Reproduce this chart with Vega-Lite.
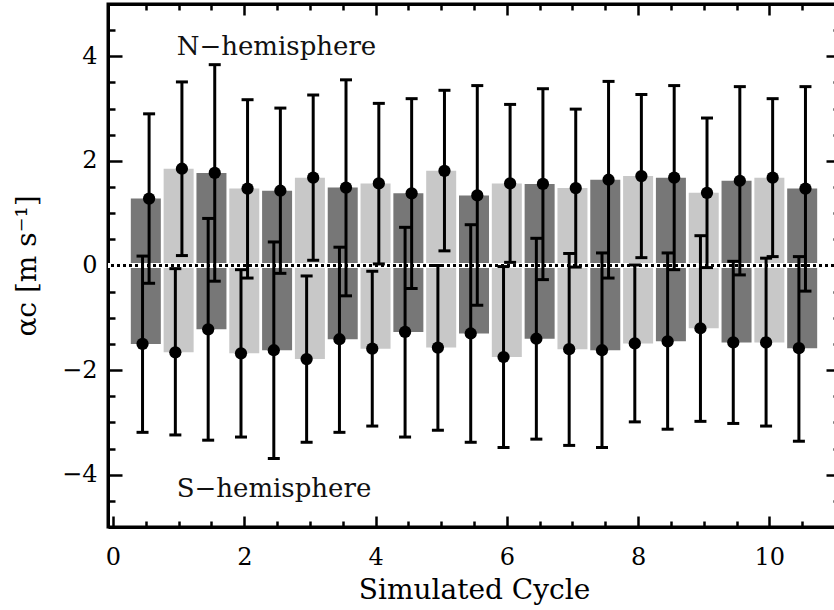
{
  "$schema": "https://vega.github.io/schema/vega-lite/v6.json",
  "autosize": {"type": "none"},
  "width": 732,
  "height": 523,
  "padding": {"left": 108, "top": 4, "right": -6, "bottom": 83},
  "background": "white",
  "config": {
    "view": {"stroke": "black", "strokeWidth": 3},
    "axis": {"domainColor": "black", "domainWidth": 3, "tickColor": "black", "tickWidth": 2.5, "labelColor": "black", "titleColor": "black", "labelFont": "DejaVu Serif", "titleFont": "DejaVu Serif", "labelFontSize": 24, "titleFontSize": 28, "titleFontWeight": "normal", "grid": false, "labelFlush": false, "labelOverlap": false},
    "text": {"font": "DejaVu Serif"}
  },
  "resolve": {"axis": {"x": "independent", "y": "independent"}},
  "data": {"values": [
    {"cycle": 0.5, "hemi": "N", "pos": 0.55, "mean": 1.28, "lo": -0.34, "hi": 2.90, "shade": "dark"},
    {"cycle": 0.5, "hemi": "S", "pos": 0.45, "mean": -1.50, "lo": -3.19, "hi": 0.18, "shade": "dark"},
    {"cycle": 1.0, "hemi": "N", "pos": 1.05, "mean": 1.85, "lo": 0.19, "hi": 3.51, "shade": "light"},
    {"cycle": 1.0, "hemi": "S", "pos": 0.95, "mean": -1.66, "lo": -3.24, "hi": -0.06, "shade": "light"},
    {"cycle": 1.5, "hemi": "N", "pos": 1.55, "mean": 1.77, "lo": -0.30, "hi": 3.84, "shade": "dark"},
    {"cycle": 1.5, "hemi": "S", "pos": 1.45, "mean": -1.22, "lo": -3.34, "hi": 0.90, "shade": "dark"},
    {"cycle": 2.0, "hemi": "N", "pos": 2.05, "mean": 1.47, "lo": -0.24, "hi": 3.17, "shade": "light"},
    {"cycle": 2.0, "hemi": "S", "pos": 1.95, "mean": -1.68, "lo": -3.28, "hi": -0.08, "shade": "light"},
    {"cycle": 2.5, "hemi": "N", "pos": 2.55, "mean": 1.43, "lo": -0.15, "hi": 3.01, "shade": "dark"},
    {"cycle": 2.5, "hemi": "S", "pos": 2.45, "mean": -1.62, "lo": -3.69, "hi": 0.45, "shade": "dark"},
    {"cycle": 3.0, "hemi": "N", "pos": 3.05, "mean": 1.68, "lo": 0.10, "hi": 3.26, "shade": "light"},
    {"cycle": 3.0, "hemi": "S", "pos": 2.95, "mean": -1.79, "lo": -3.38, "hi": -0.20, "shade": "light"},
    {"cycle": 3.5, "hemi": "N", "pos": 3.55, "mean": 1.49, "lo": -0.58, "hi": 3.55, "shade": "dark"},
    {"cycle": 3.5, "hemi": "S", "pos": 3.45, "mean": -1.41, "lo": -3.19, "hi": 0.35, "shade": "dark"},
    {"cycle": 4.0, "hemi": "N", "pos": 4.05, "mean": 1.57, "lo": 0.03, "hi": 3.10, "shade": "light"},
    {"cycle": 4.0, "hemi": "S", "pos": 3.95, "mean": -1.59, "lo": -3.07, "hi": -0.11, "shade": "light"},
    {"cycle": 4.5, "hemi": "N", "pos": 4.55, "mean": 1.38, "lo": -0.44, "hi": 3.19, "shade": "dark"},
    {"cycle": 4.5, "hemi": "S", "pos": 4.45, "mean": -1.27, "lo": -3.28, "hi": 0.73, "shade": "dark"},
    {"cycle": 5.0, "hemi": "N", "pos": 5.05, "mean": 1.81, "lo": 0.28, "hi": 3.35, "shade": "light"},
    {"cycle": 5.0, "hemi": "S", "pos": 4.95, "mean": -1.57, "lo": -3.15, "hi": 0.00, "shade": "light"},
    {"cycle": 5.5, "hemi": "N", "pos": 5.55, "mean": 1.34, "lo": -0.76, "hi": 3.44, "shade": "dark"},
    {"cycle": 5.5, "hemi": "S", "pos": 5.45, "mean": -1.30, "lo": -3.38, "hi": 0.78, "shade": "dark"},
    {"cycle": 6.0, "hemi": "N", "pos": 6.05, "mean": 1.57, "lo": 0.06, "hi": 3.08, "shade": "light"},
    {"cycle": 6.0, "hemi": "S", "pos": 5.95, "mean": -1.75, "lo": -3.48, "hi": -0.02, "shade": "light"},
    {"cycle": 6.5, "hemi": "N", "pos": 6.55, "mean": 1.56, "lo": -0.27, "hi": 3.38, "shade": "dark"},
    {"cycle": 6.5, "hemi": "S", "pos": 6.45, "mean": -1.40, "lo": -3.32, "hi": 0.52, "shade": "dark"},
    {"cycle": 7.0, "hemi": "N", "pos": 7.05, "mean": 1.48, "lo": -0.03, "hi": 2.99, "shade": "light"},
    {"cycle": 7.0, "hemi": "S", "pos": 6.95, "mean": -1.60, "lo": -3.44, "hi": 0.23, "shade": "light"},
    {"cycle": 7.5, "hemi": "N", "pos": 7.55, "mean": 1.64, "lo": -0.24, "hi": 3.52, "shade": "dark"},
    {"cycle": 7.5, "hemi": "S", "pos": 7.45, "mean": -1.62, "lo": -3.48, "hi": 0.24, "shade": "dark"},
    {"cycle": 8.0, "hemi": "N", "pos": 8.05, "mean": 1.71, "lo": 0.15, "hi": 3.27, "shade": "light"},
    {"cycle": 8.0, "hemi": "S", "pos": 7.95, "mean": -1.49, "lo": -2.99, "hi": 0.01, "shade": "light"},
    {"cycle": 8.5, "hemi": "N", "pos": 8.55, "mean": 1.68, "lo": -0.08, "hi": 3.44, "shade": "dark"},
    {"cycle": 8.5, "hemi": "S", "pos": 8.45, "mean": -1.45, "lo": -3.13, "hi": 0.24, "shade": "dark"},
    {"cycle": 9.0, "hemi": "N", "pos": 9.05, "mean": 1.39, "lo": -0.04, "hi": 2.82, "shade": "light"},
    {"cycle": 9.0, "hemi": "S", "pos": 8.95, "mean": -1.20, "lo": -2.98, "hi": 0.57, "shade": "light"},
    {"cycle": 9.5, "hemi": "N", "pos": 9.55, "mean": 1.62, "lo": -0.18, "hi": 3.42, "shade": "dark"},
    {"cycle": 9.5, "hemi": "S", "pos": 9.45, "mean": -1.47, "lo": -3.02, "hi": 0.08, "shade": "dark"},
    {"cycle": 10.0, "hemi": "N", "pos": 10.05, "mean": 1.68, "lo": 0.17, "hi": 3.19, "shade": "light"},
    {"cycle": 10.0, "hemi": "S", "pos": 9.95, "mean": -1.47, "lo": -3.07, "hi": 0.14, "shade": "light"},
    {"cycle": 10.5, "hemi": "N", "pos": 10.55, "mean": 1.47, "lo": -0.49, "hi": 3.42, "shade": "dark"},
    {"cycle": 10.5, "hemi": "S", "pos": 10.45, "mean": -1.58, "lo": -3.36, "hi": 0.17, "shade": "dark"}
  ]},
  "layer": [
    {
      "mark": {"type": "bar", "size": 30},
      "encoding": {
        "x": {"field": "cycle", "type": "quantitative", "scale": {"domain": [0, 11], "nice": false, "zero": false},
          "axis": {"orient": "bottom", "values": [0, 2, 4, 6, 8, 10], "tickSize": -11, "labelPadding": 29,
            "title": "Simulated Cycle", "titlePadding": 7}},
        "y": {"field": "mean", "type": "quantitative", "stack": null, "scale": {"domain": [-5, 5], "nice": false},
          "axis": {"orient": "left", "values": [-4, -2, 0, 2, 4], "tickSize": -14, "labelPadding": 25,
            "title": "αc [m s⁻¹]", "titlePadding": 20}},
        "color": {"field": "shade", "type": "nominal", "scale": {"domain": ["dark", "light"], "range": ["#777777", "#c8c8c8"]}, "legend": null}
      }
    },
    {
      "mark": {"type": "rule", "color": "white", "strokeWidth": 4},
      "encoding": {"y": {"datum": 0, "type": "quantitative", "axis": null}}
    },
    {
      "mark": {"type": "rule", "color": "black", "strokeWidth": 1.3, "strokeDash": [3, 3]},
      "encoding": {"y": {"datum": 0, "type": "quantitative", "axis": null}}
    },
    {
      "mark": {"type": "rule", "color": "black", "strokeWidth": 3},
      "encoding": {
        "x": {"field": "pos", "type": "quantitative", "scale": {"domain": [0, 11], "nice": false, "zero": false},
          "axis": {"orient": "top", "values": [2, 4, 6, 8, 10], "tickSize": -11, "labels": false, "title": null}},
        "y": {"field": "lo", "type": "quantitative", "scale": {"domain": [-5, 5], "nice": false},
          "axis": {"orient": "right", "values": [-4, -2, 0, 2, 4], "tickSize": -14, "labels": false, "title": null}},
        "y2": {"field": "hi"}
      }
    },
    {
      "mark": {"type": "tick", "orient": "horizontal", "size": 12, "thickness": 3, "color": "black", "opacity": 1},
      "encoding": {
        "x": {"field": "pos", "type": "quantitative", "scale": {"domain": [0, 11], "nice": false, "zero": false},
          "axis": {"orient": "bottom", "values": [0.5,1,1.5,2.5,3,3.5,4.5,5,5.5,6.5,7,7.5,8.5,9,9.5,10.5], "tickSize": -6, "labels": false, "title": null, "domain": false}},
        "y": {"field": "lo", "type": "quantitative", "scale": {"domain": [-5, 5], "nice": false},
          "axis": {"orient": "left", "values": [-4.5,-3.5,-3,-2.5,-1.5,-1,-0.5,0.5,1,1.5,2.5,3,3.5,4.5], "tickSize": -7, "labels": false, "title": null, "domain": false}}
      }
    },
    {
      "mark": {"type": "tick", "orient": "horizontal", "size": 12, "thickness": 3, "color": "black", "opacity": 1},
      "encoding": {
        "x": {"field": "pos", "type": "quantitative", "scale": {"domain": [0, 11], "nice": false, "zero": false},
          "axis": {"orient": "top", "values": [0.5,1,1.5,2.5,3,3.5,4.5,5,5.5,6.5,7,7.5,8.5,9,9.5,10.5], "tickSize": -6, "labels": false, "title": null, "domain": false}},
        "y": {"field": "hi", "type": "quantitative", "scale": {"domain": [-5, 5], "nice": false},
          "axis": {"orient": "right", "values": [-4.5,-3.5,-3,-2.5,-1.5,-1,-0.5,0.5,1,1.5,2.5,3,3.5,4.5], "tickSize": -7, "labels": false, "title": null, "domain": false}}
      }
    },
    {
      "mark": {"type": "circle", "size": 150, "color": "black", "opacity": 1},
      "encoding": {
        "x": {"field": "pos", "type": "quantitative", "axis": null},
        "y": {"field": "mean", "type": "quantitative", "axis": null}
      }
    },
    {
      "data": {"values": [
        {"label": "N−hemisphere", "lx": 0.97, "ly": 4.03},
        {"label": "S−hemisphere", "lx": 0.97, "ly": -4.43}
      ]},
      "mark": {"type": "text", "align": "left", "baseline": "alphabetic", "fontSize": 26, "font": "DejaVu Serif", "color": "#111111"},
      "encoding": {
        "x": {"field": "lx", "type": "quantitative", "axis": null},
        "y": {"field": "ly", "type": "quantitative", "axis": null},
        "text": {"field": "label"}
      }
    }
  ]
}
